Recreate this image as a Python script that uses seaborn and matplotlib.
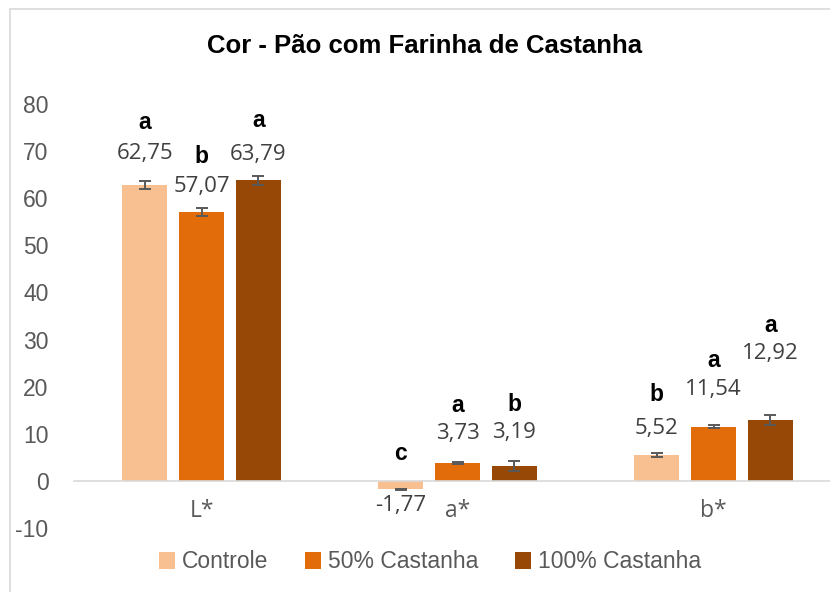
import pandas as pd
import seaborn as sns
import matplotlib.pyplot as plt
from matplotlib.patches import Rectangle

# Dados
categorias = ["L*", "a*", "b*"]
tratamentos = ["Controle", "50% Castanha", "100% Castanha"]
controle = [62.75, -1.77, 5.52]
castanha_50 = [57.07, 3.73, 11.54]
castanha_100 = [63.79, 3.19, 12.92]
desvio_controle = [0.85, 0.1, 0.4]
desvio_50 = [0.85, 0.2, 0.4]
desvio_100 = [1.0, 1.05, 1.0]
letras_controle = ["a", "c", "b"]
letras_50 = ["b", "a", "a"]
letras_100 = ["a", "b", "a"]

cores = ["#F8C090", "#E36C0A", "#974706"]

valores = [controle, castanha_50, castanha_100]
desvios = [desvio_controle, desvio_50, desvio_100]
letras = [letras_controle, letras_50, letras_100]

df = pd.DataFrame({
    "Parâmetro": categorias * 3,
    "Tratamento": [t for t in tratamentos for _ in categorias],
    "Valor": controle + castanha_50 + castanha_100,
})

# deslocamento dos rótulos (pixels acima da barra), como no Excel
off_valor = [[32, 16, 26], [26, 30, 37], [26, 33, 67]]
off_letra = [[63, 27, 60], [56, 58, 66], [60, 61, 95]]

plt.rcParams["font.family"] = ["Liberation Sans", "DejaVu Sans"]
plt.rcParams["axes.unicode_minus"] = False

fig = plt.figure(figsize=(8.3, 5.92), dpi=100)
ax = fig.add_axes([73.5 / 830, 1 - 528 / 592, 768 / 830, 424 / 592])

sns.barplot(data=df, x="Parâmetro", y="Valor", hue="Tratamento",
            palette=cores, width=0.667, gap=0.21, errorbar=None,
            saturation=1, ax=ax)

barras = list(ax.containers)
for i, cont in enumerate(barras):
    xs = [b.get_x() + b.get_width() / 2 for b in cont]
    ax.errorbar(xs, valores[i], yerr=desvios[i], fmt="none",
                ecolor="#595959", elinewidth=1.4, capsize=4.5, capthick=1.4,
                zorder=3)
    for j, x in enumerate(xs):
        v = valores[i][j]
        txt = f"{v:.2f}".replace(".", ",")
        if v < 0:
            ax.annotate(txt, (x, v), xytext=(0, -off_valor[i][j]),
                        textcoords="offset pixels", ha="center", va="center",
                        fontsize=16, color="#404040", family="Open Sans")
            ax.annotate(letras[i][j], (x, 0), xytext=(0, off_letra[i][j]),
                        textcoords="offset pixels", ha="center", va="center",
                        fontsize=16.5, fontweight="bold", color="black")
        else:
            ax.annotate(txt, (x, v), xytext=(0, off_valor[i][j]),
                        textcoords="offset pixels", ha="center", va="center",
                        fontsize=16, color="#404040", family="Open Sans")
            ax.annotate(letras[i][j], (x, v), xytext=(0, off_letra[i][j]),
                        textcoords="offset pixels", ha="center", va="center",
                        fontsize=16.5, fontweight="bold", color="black")

ax.set_xlim(-0.5, 2.5)
ax.set_ylim(-10, 80)
ax.set_yticks(range(-10, 81, 10))
ax.set_xlabel("")
ax.set_ylabel("")
for s in ["top", "right", "left"]:
    ax.spines[s].set_visible(False)
ax.spines["bottom"].set_position(("data", 0))
ax.spines["bottom"].set_color("#D9D9D9")
ax.spines["bottom"].set_linewidth(1.2)
ax.tick_params(axis="both", length=0, colors="#595959", labelsize=16.5)
ax.tick_params(axis="y", pad=18)
ax.tick_params(axis="x", pad=13, labelsize=16.5)
for lbl in ax.get_xticklabels():
    lbl.set_family("Open Sans")

fig.text(425 / 830, 1 - 46 / 592, "Cor - Pão com Farinha de Castanha",
         ha="center", va="center", fontsize=18.5, fontweight="bold", color="black")

ax.legend_.remove()
h, l = ax.get_legend_handles_labels()
fig.legend(h, l, loc="center", bbox_to_anchor=(430 / 830, 1 - 562 / 592),
           ncol=3, frameon=False, fontsize=16.5, labelcolor="#595959",
           handlelength=0.7, handleheight=0.7, handletextpad=0.3,
           columnspacing=1.6)

# moldura do gráfico
fig.patches.append(Rectangle((10 / 830, -0.1), 1.2, 1.1 - 9 / 592,
                             transform=fig.transFigure, fill=False,
                             edgecolor="#D9D9D9", linewidth=1.2))

fig.savefig("out.png", dpi=100)
